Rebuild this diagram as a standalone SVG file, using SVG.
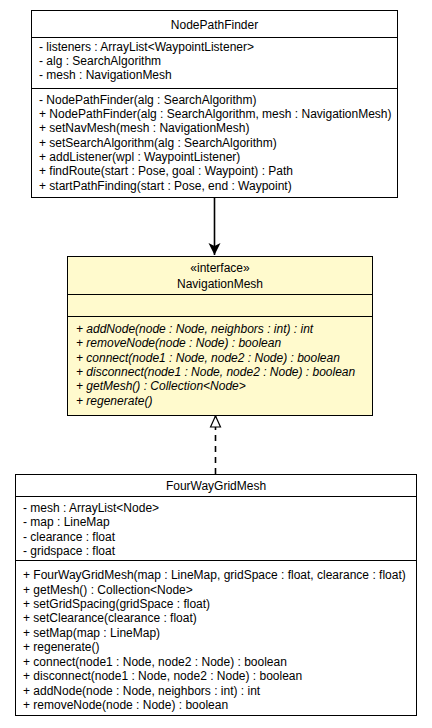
<svg xmlns="http://www.w3.org/2000/svg" width="432" height="728" viewBox="0 0 432 728">
<style>
text{font-family:"Liberation Sans",Arial,sans-serif;font-size:12px;fill:#000}
.c{text-anchor:middle}
.i{font-style:italic}
.box{fill:#fff;stroke:#000;stroke-width:1}
.ybox{fill:#fffacd;stroke:#000;stroke-width:1}
.div{stroke:#000;stroke-width:1}
.edge{stroke:#000;stroke-width:1.6;fill:none}
</style>
<defs>
<marker id="vee" markerWidth="14" markerHeight="14" refX="12" refY="7" orient="auto" markerUnits="userSpaceOnUse">
<path d="M0,1 L12,7 L0,13 L3,7 Z" fill="#000"/>
</marker>
<marker id="tri" markerWidth="14" markerHeight="14" refX="12" refY="7" orient="auto" markerUnits="userSpaceOnUse">
<path d="M1,2 L12,7 L1,12 Z" fill="#fff" stroke="#000" stroke-width="1.2"/>
</marker>
</defs>
<g id="connectors">
<line class="edge" x1="214.5" y1="197" x2="214.5" y2="255" marker-end="url(#vee)"/>
<line class="edge" x1="215.5" y1="474" x2="215.5" y2="416" stroke-dasharray="6,5" marker-end="url(#tri)"/>
</g>
<g id="NodePathFinder">
<rect class="box" x="31.5" y="10.5" width="366" height="187"/>
<line class="div" x1="31.5" y1="37.5" x2="397.5" y2="37.5"/>
<line class="div" x1="31.5" y1="88.5" x2="397.5" y2="88.5"/>
<text class="c" x="214.5" y="29">NodePathFinder</text>
<text x="39" y="51">- listeners : ArrayList&lt;WaypointListener&gt;</text>
<text x="39" y="65">- alg : SearchAlgorithm</text>
<text x="39" y="79">- mesh : NavigationMesh</text>
<text x="39" y="104">- NodePathFinder(alg : SearchAlgorithm)</text>
<text x="39" y="118">+ NodePathFinder(alg : SearchAlgorithm, mesh : NavigationMesh)</text>
<text x="39" y="132">+ setNavMesh(mesh : NavigationMesh)</text>
<text x="39" y="147">+ setSearchAlgorithm(alg : SearchAlgorithm)</text>
<text x="39" y="161">+ addListener(wpl : WaypointListener)</text>
<text x="39" y="175">+ findRoute(start : Pose, goal : Waypoint) : Path</text>
<text x="39" y="190">+ startPathFinding(start : Pose, end : Waypoint)</text>
</g>
<g id="NavigationMesh">
<rect class="ybox" x="67.5" y="256.5" width="305" height="159"/>
<line class="div" x1="67.5" y1="294.5" x2="372.5" y2="294.5"/>
<line class="div" x1="67.5" y1="316.5" x2="372.5" y2="316.5"/>
<text class="c" x="220" y="272">«interface»</text>
<text class="c" x="220" y="288">NavigationMesh</text>
<text class="i" x="76" y="333">+ addNode(node : Node, neighbors : int) : int</text>
<text class="i" x="76" y="347">+ removeNode(node : Node) : boolean</text>
<text class="i" x="76" y="362">+ connect(node1 : Node, node2 : Node) : boolean</text>
<text class="i" x="76" y="376">+ disconnect(node1 : Node, node2 : Node) : boolean</text>
<text class="i" x="76" y="390">+ getMesh() : Collection&lt;Node&gt;</text>
<text class="i" x="76" y="405">+ regenerate()</text>
</g>
<g id="FourWayGridMesh">
<rect class="box" x="15.5" y="474.5" width="401" height="241"/>
<line class="div" x1="15.5" y1="496.5" x2="416.5" y2="496.5"/>
<line class="div" x1="15.5" y1="560.5" x2="416.5" y2="560.5"/>
<text class="c" x="216" y="490">FourWayGridMesh</text>
<text x="23" y="512">- mesh : ArrayList&lt;Node&gt;</text>
<text x="23" y="526">- map : LineMap</text>
<text x="23" y="541">- clearance : float</text>
<text x="23" y="555">- gridspace : float</text>
<text x="23" y="579">+ FourWayGridMesh(map : LineMap, gridSpace : float, clearance : float)</text>
<text x="23" y="594">+ getMesh() : Collection&lt;Node&gt;</text>
<text x="23" y="608">+ setGridSpacing(gridSpace : float)</text>
<text x="23" y="622">+ setClearance(clearance : float)</text>
<text x="23" y="637">+ setMap(map : LineMap)</text>
<text x="23" y="651">+ regenerate()</text>
<text x="23" y="666">+ connect(node1 : Node, node2 : Node) : boolean</text>
<text x="23" y="680">+ disconnect(node1 : Node, node2 : Node) : boolean</text>
<text x="23" y="695">+ addNode(node : Node, neighbors : int) : int</text>
<text x="23" y="709">+ removeNode(node : Node) : boolean</text>
</g>
</svg>
